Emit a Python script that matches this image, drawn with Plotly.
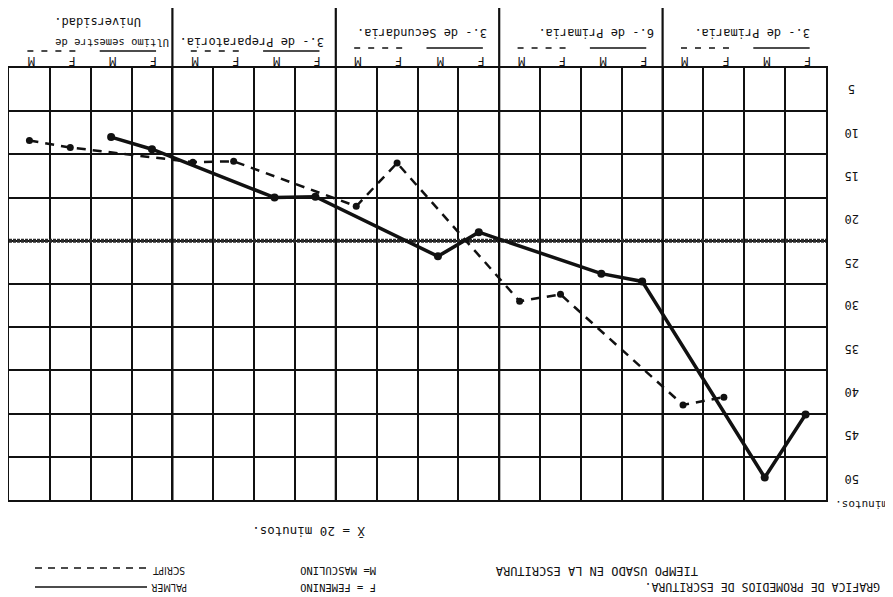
import plotly.graph_objects as go

# ---------------- data ----------------
group_titles = ["Ultimo semestre de", "3.- de Preparatoria.", "3.- de Secundaria.",
                "6.- de Primaria.", "3.- de Primaria."]
group_title_extra = "Universidad."
sub_labels = ["M", "F", "M", "F"]

script_cols = [0, 1, 4, 5, 8, 9, 12, 13, 16, 17]
script_minutes = [8.4, 9.2, 10.9, 10.8, 16.0, 11.0, 27.0, 26.2, 39.0, 38.1]
palmer_cols = [2, 3, 6, 7, 10, 11, 14, 15, 18, 19]
palmer_minutes = [8.0, 9.4, 15.0, 14.9, 21.8, 19.0, 23.8, 24.7, 47.4, 40.1]
mean_minutes = 20
ytick_values = [5, 10, 15, 20, 25, 30, 35, 40, 45, 50]
ytick_labels = ["5", "10", "15", "20", "25", "30", "35", "40", "45", "50"]

# ---------------- layout helpers ----------------
# the page body has an 8px margin, so the figure is drawn 8px smaller and
# every reference pixel position is shifted by OFF.
OFF = 8
W, H = 893 - OFF, 597 - OFF
L, R, T, B = 1, 67, 60, 97
PW, PH = W - L - R, H - T - B
FONT = "DejaVu Sans Mono, Liberation Mono, monospace"
NARROW = "Liberation Sans Narrow, DejaVu Sans Condensed, DejaVu Sans Mono, monospace"
INK = "#111111"


def ppx(x):
    return (x - OFF - L) / PW


def ppy(y):
    return (H - B - (y - OFF)) / PH


fig = go.Figure()

# mean line
fig.add_trace(go.Scatter(x=[-0.5, 19.5], y=[mean_minutes, mean_minutes], mode="lines",
                         line=dict(color="#2b2b2b", width=4, dash="3px,1px"),
                         hoverinfo="skip"))
# SCRIPT (dashed)
fig.add_trace(go.Scatter(x=script_cols, y=script_minutes, mode="lines+markers",
                         line=dict(color=INK, width=2.5, dash="9px,7px"),
                         marker=dict(color=INK, size=7), hoverinfo="skip"))
# PALMER (solid)
fig.add_trace(go.Scatter(x=palmer_cols, y=palmer_minutes, mode="lines+markers",
                         line=dict(color=INK, width=3.5),
                         marker=dict(color=INK, size=8), hoverinfo="skip"))

shapes = []
annotations = []

# major group separators extending into header
for g in range(1, 5):
    shapes.append(dict(type="line", xref="x", yref="paper", x0=4 * g - 0.5, x1=4 * g - 0.5,
                       y0=0, y1=ppy(OFF), line=dict(color=INK, width=2.2)))

# header: titles, sub labels, line-style bars
title_px = [112, 252, 422, 596, 752]
title_py = [43, 42, 33, 33, 33]
title_size = [10.5, 12, 12, 12, 12]
for g, t in enumerate(group_titles):
    annotations.append(dict(text=t, xref="paper", yref="paper", x=ppx(title_px[g]), y=ppy(title_py[g]),
                            showarrow=False, textangle=180,
                            font=dict(family=FONT, size=title_size[g], color=INK),
                            xanchor="center", yanchor="middle"))
annotations.append(dict(text=group_title_extra, xref="paper", yref="paper", x=ppx(98), y=ppy(22),
                        showarrow=False, textangle=180, font=dict(family=FONT, size=12, color=INK),
                        xanchor="center", yanchor="middle"))
for g in range(5):
    for j, s in enumerate(sub_labels):
        annotations.append(dict(text=s, xref="x", yref="paper", x=4 * g + j + 0.05, y=ppy(61),
                                showarrow=False, textangle=180,
                                font=dict(family=FONT, size=12, color=INK),
                                xanchor="center", yanchor="middle"))
    bar_y = ppy(51 if g < 2 else 48)
    shapes.append(dict(type="line", xref="x", yref="paper", x0=4 * g - 0.05, x1=4 * g + 1.15,
                       y0=bar_y, y1=bar_y, line=dict(color=INK, width=1.6, dash="6px,8px")))
    shapes.append(dict(type="line", xref="x", yref="paper", x0=4 * g + 2 - 0.28, x1=4 * g + 3 + 0.1,
                       y0=bar_y, y1=bar_y, line=dict(color=INK, width=1.6)))

# right-side minute labels (upside down)
for v, lab in zip(ytick_values, ytick_labels):
    annotations.append(dict(text=lab, xref="paper", yref="y", x=ppx(852), y=v - 2.5,
                            showarrow=False, textangle=180, font=dict(family=FONT, size=12, color=INK),
                            xanchor="center", yanchor="middle"))
annotations.append(dict(text="minutos.", xref="paper", yref="paper", x=ppx(862), y=ppy(505),
                        showarrow=False, textangle=180, font=dict(family=FONT, size=11, color=INK),
                        xanchor="center", yanchor="middle"))

# bottom notes and legend
bottom = [
    ("X\u0304 = 20 minutos.", 309, 532, 12.5, FONT),
    ("TIEMPO USADO EN LA ESCRITURA", 597, 571, 12, FONT),
    ("GRAFICA DE PROMEDIOS DE ESCRITURA.", 763, 587, 11.5, FONT),
    ("M= MASCULINO", 338, 571, 10.5, FONT),
    ("F = FEMENINO", 338, 588, 10.5, FONT),
    ("SCRIPT", 169, 571, 10, NARROW),
    ("PALMER", 169, 588, 10, NARROW),
]
for t, x, y, s, f in bottom:
    annotations.append(dict(text=t, xref="paper", yref="paper", x=ppx(x), y=ppy(y),
                            showarrow=False, textangle=180, font=dict(family=f, size=s, color=INK),
                            xanchor="center", yanchor="middle"))
shapes.append(dict(type="line", xref="paper", yref="paper", x0=ppx(35), x1=ppx(147),
                   y0=ppy(568), y1=ppy(568), line=dict(color=INK, width=1.6, dash="7px,6px")))
shapes.append(dict(type="line", xref="paper", yref="paper", x0=ppx(35), x1=ppx(147),
                   y0=ppy(587), y1=ppy(587), line=dict(color=INK, width=1.6)))

fig.update_layout(
    width=W, height=H,
    margin=dict(l=L, r=R, t=T, b=B, pad=0),
    paper_bgcolor="white", plot_bgcolor="white",
    showlegend=False, hovermode=False,
    shapes=shapes, annotations=annotations,
    xaxis=dict(range=[-0.5, 19.5], tickvals=[k - 0.5 for k in range(21)], showticklabels=False,
               ticks="", showgrid=True, gridcolor=INK, gridwidth=1.8, zeroline=False,
               showline=True, mirror=True, linecolor=INK, linewidth=2, fixedrange=True),
    yaxis=dict(range=[50, 0], tickvals=[0] + ytick_values, showticklabels=False,
               ticks="", showgrid=True, gridcolor=INK, gridwidth=1.8, zeroline=False,
               showline=True, mirror=True, linecolor=INK, linewidth=2, fixedrange=True),
)

fig.write_html("out.html", config={"displayModeBar": False})
